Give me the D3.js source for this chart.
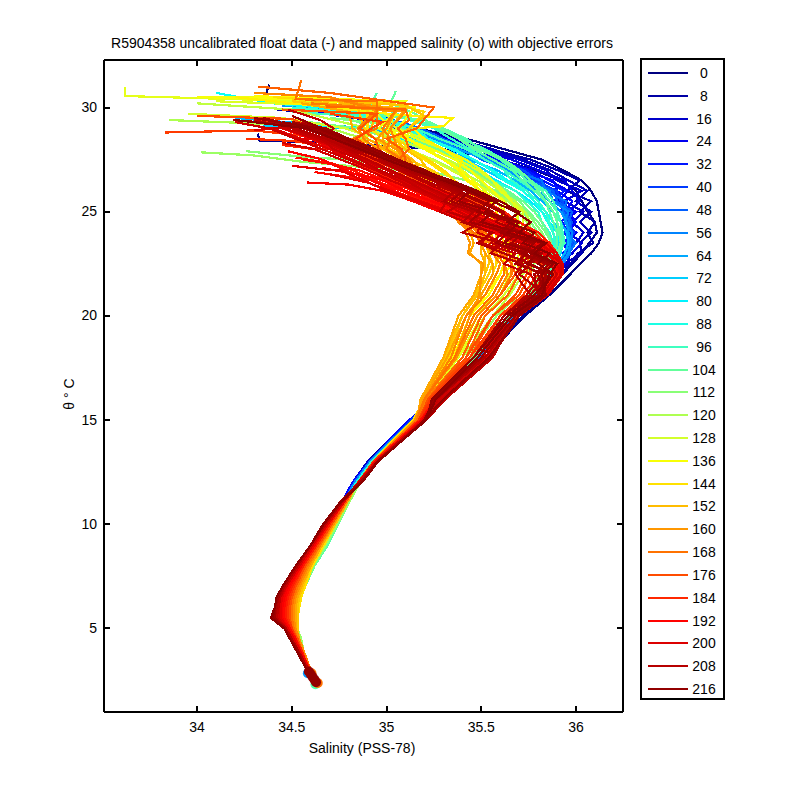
<!DOCTYPE html>
<html>
<head>
<meta charset="utf-8">
<script src="https://cdn.jsdelivr.net/npm/d3@7"></script>
<style>
body { margin: 0; background: #fff; }
text { font-family: "Liberation Sans", Arial, sans-serif; font-size: 14px; fill: #000; }
.axis path, .axis line { stroke: #000; shape-rendering: crispEdges; stroke-width: 2px; }
.profile { fill: none; stroke-width: 2.2px; shape-rendering: crispEdges; }
</style>
</head>
<body>
<svg id="chart" width="800" height="800"></svg>
<script>
var titleText = 'R5904358 uncalibrated float data (-) and mapped salinity (o) with objective errors';
var legendCycles = [0,8,16,24,32,40,48,56,64,72,80,88,96,104,112,120,128,136,144,152,160,168,176,184,192,200,208,216];
var xTicks = [34, 34.5, 35, 35.5, 36];
var yTicks = [5, 10, 15, 20, 25, 30];

// theta levels the upper salinity values were read at
var upperTheta = [29,28.5,28,27.5,27,26.5,26,25.5,25,24.5,24,23.5,23,22.5,22,21,20,18,16];
// theta levels of the deep limb
var deepTheta = [15,14,13,12,11,10,9,8,7,6.5,6,5.5,5,4.5,4,3.5,3,2.3];

// deep limbs, oldest to newest
var deepLimbs = [
  [35.12,35.01,34.90,34.82,34.76,34.69,34.62,34.55,34.50,34.49,34.49,34.49,34.50,34.52,34.54,34.56,34.59,34.64],
  [35.13,35.02,34.90,34.82,34.76,34.69,34.62,34.55,34.51,34.50,34.50,34.50,34.51,34.53,34.55,34.57,34.59,34.64],
  [35.12,35.01,34.91,34.82,34.76,34.70,34.63,34.56,34.52,34.51,34.51,34.50,34.51,34.53,34.55,34.57,34.59,34.64],
  [35.13,35.02,34.91,34.83,34.77,34.70,34.64,34.57,34.53,34.52,34.51,34.51,34.52,34.53,34.55,34.57,34.60,34.64],
  [35.14,35.02,34.91,34.83,34.77,34.71,34.65,34.58,34.54,34.52,34.52,34.51,34.52,34.54,34.56,34.58,34.60,34.65],
  [35.14,35.03,34.92,34.84,34.78,34.72,34.66,34.59,34.54,34.53,34.52,34.52,34.52,34.54,34.56,34.58,34.60,34.65],
  [35.15,35.03,34.92,34.84,34.78,34.73,34.67,34.60,34.55,34.53,34.53,34.52,34.53,34.54,34.56,34.58,34.60,34.65],
  [35.14,35.03,34.92,34.85,34.79,34.74,34.68,34.61,34.56,34.54,34.53,34.52,34.53,34.54,34.56,34.58,34.60,34.65],
  [35.15,35.03,34.93,34.86,34.80,34.745,34.69,34.62,34.57,34.54,34.53,34.53,34.53,34.54,34.56,34.58,34.60,34.65],
  [35.15,35.04,34.93,34.86,34.80,34.74,34.68,34.62,34.57,34.55,34.54,34.53,34.53,34.55,34.56,34.58,34.60,34.65],
  [35.14,35.03,34.93,34.86,34.80,34.74,34.68,34.61,34.57,34.55,34.54,34.53,34.53,34.55,34.56,34.58,34.60,34.65],
  [35.14,35.03,34.93,34.85,34.79,34.73,34.67,34.61,34.57,34.55,34.54,34.53,34.53,34.54,34.56,34.58,34.60,34.65],
  [35.15,35.03,34.93,34.85,34.79,34.73,34.67,34.60,34.56,34.54,34.53,34.52,34.53,34.54,34.56,34.58,34.60,34.65],
  [35.14,35.03,34.93,34.85,34.79,34.73,34.67,34.61,34.57,34.55,34.54,34.53,34.53,34.54,34.56,34.58,34.60,34.65],
  [35.15,35.04,34.93,34.85,34.79,34.73,34.66,34.60,34.56,34.54,34.53,34.53,34.53,34.54,34.56,34.58,34.60,34.65],
  [35.16,35.04,34.93,34.85,34.79,34.72,34.66,34.60,34.55,34.53,34.52,34.52,34.52,34.54,34.56,34.58,34.60,34.645],
  [35.15,35.04,34.93,34.85,34.78,34.72,34.65,34.59,34.54,34.52,34.51,34.51,34.52,34.54,34.56,34.58,34.60,34.645],
  [35.16,35.05,34.93,34.85,34.78,34.71,34.65,34.58,34.53,34.51,34.50,34.50,34.51,34.53,34.55,34.58,34.60,34.645],
  [35.17,35.05,34.93,34.85,34.78,34.71,34.64,34.57,34.52,34.50,34.49,34.49,34.50,34.53,34.55,34.57,34.60,34.64],
  [35.17,35.05,34.93,34.85,34.77,34.70,34.63,34.56,34.51,34.49,34.48,34.48,34.50,34.52,34.55,34.57,34.60,34.64],
  [35.18,35.06,34.94,34.85,34.77,34.70,34.63,34.56,34.50,34.48,34.47,34.47,34.49,34.52,34.55,34.57,34.60,34.64],
  [35.18,35.06,34.94,34.85,34.77,34.69,34.62,34.55,34.49,34.47,34.46,34.46,34.49,34.52,34.54,34.57,34.59,34.64],
  [35.19,35.06,34.94,34.85,34.77,34.69,34.62,34.55,34.48,34.46,34.45,34.45,34.48,34.51,34.54,34.57,34.59,34.635],
  [35.19,35.07,34.94,34.85,34.77,34.69,34.61,34.54,34.47,34.45,34.44,34.44,34.48,34.51,34.54,34.56,34.59,34.635],
  [35.20,35.07,34.95,34.85,34.76,34.68,34.61,34.54,34.47,34.44,34.43,34.43,34.47,34.50,34.53,34.56,34.59,34.63],
  [35.20,35.07,34.95,34.86,34.76,34.68,34.60,34.53,34.46,34.44,34.43,34.42,34.47,34.50,34.53,34.56,34.59,34.63],
  [35.21,35.08,34.95,34.86,34.76,34.67,34.60,34.53,34.46,34.43,34.42,34.41,34.47,34.50,34.53,34.56,34.58,34.63],
  [35.21,35.08,34.955,34.86,34.75,34.67,34.60,34.52,34.45,34.43,34.41,34.41,34.46,34.49,34.53,34.55,34.58,34.63],
  [35.20,35.08,34.95,34.87,34.75,34.67,34.60,34.52,34.45,34.42,34.41,34.40,34.46,34.49,34.52,34.55,34.58,34.63],
  [35.21,35.08,34.955,34.87,34.75,34.665,34.60,34.52,34.45,34.42,34.41,34.39,34.46,34.49,34.52,34.55,34.58,34.63]
];

// each row: cycle, surface points [salinity, theta], salinity at upperTheta
var blueRows = [
  [0,[[34.38,31.1],[34.36,30.5],[34.8,29.9]],[35.16,35.42,35.62,35.82,35.93,36.03,36.08,36.11,36.12,36.13,36.14,36.12,36.08,36.02,35.97,35.86,35.73,35.52,35.27]],
  [4,[[34.32,28.75],[34.33,28.4],[34.6,28.35]],[null,null,35.3,35.6,35.78,35.92,36.0,36.03,36.06,36.1,36.11,36.07,36.03,35.98,35.93,35.84,35.72,35.52,35.27]],
  [8,[[34.42,29.9],[34.8,29.6]],[35.1,35.34,35.55,35.76,35.9,36.02,35.95,36.08,36.02,36.1,36.06,36.09,36.01,35.97,35.92,35.82,35.7,35.5,35.26]],
  [12,[[34.72,30.0],[34.95,29.5]],[35.15,35.36,35.56,35.72,35.86,35.96,36.06,36.0,36.08,36.02,36.08,36.02,36.03,35.94,35.9,35.82,35.7,35.5,35.26]],
  [16,[[34.75,29.9],[35.0,29.5]],[35.18,35.3,35.52,35.7,35.84,35.9,36.03,35.94,36.04,35.98,36.04,36.0,35.96,35.96,35.88,35.81,35.69,35.5,35.26]],
  [20,[[34.85,29.6]],[35.12,35.32,35.48,35.66,35.8,35.94,35.98,36.02,35.96,36.0,35.96,36.03,35.98,35.92,35.9,35.8,35.69,35.5,35.26]],
  [24,[[34.6,29.8],[34.9,29.4]],[35.08,35.26,35.5,35.6,35.76,35.86,35.96,35.9,36.0,35.94,36.0,35.95,35.97,35.93,35.87,35.8,35.68,35.5,35.26]],
  [28,[[34.8,29.7]],[35.05,35.28,35.42,35.62,35.72,35.88,35.9,35.98,35.94,36.0,35.95,35.98,35.93,35.94,35.88,35.79,35.68,35.5,35.25]],
  [32,[[34.95,29.6]],[35.14,35.24,35.46,35.56,35.74,35.82,35.94,35.88,35.98,35.92,35.97,35.94,35.95,35.91,35.86,35.79,35.68,35.5,35.25]],
  [36,[[34.9,29.5]],[35.08,35.3,35.4,35.58,35.7,35.8,35.88,35.94,35.92,35.96,35.94,35.97,35.94,35.9,35.87,35.79,35.67,35.5,35.25]],
  [40,[[34.85,29.7]],[35.12,35.22,35.44,35.54,35.68,35.78,35.9,35.92,35.96,35.95,35.99,35.95,35.96,35.92,35.87,35.79,35.67,35.49,35.25]],
  [44,[[34.98,29.4]],[35.1,35.26,35.38,35.52,35.72,35.8,35.86,35.93,35.94,35.98,35.96,35.99,35.95,35.92,35.88,35.78,35.67,35.49,35.25]],
  [48,[[35.0,29.5]],[35.18,35.3,35.42,35.5,35.66,35.76,35.88,35.9,35.98,35.96,35.98,35.98,35.94,35.93,35.87,35.78,35.67,35.49,35.24]],
  [52,[[34.9,29.6]],[35.06,35.24,35.36,35.56,35.64,35.82,35.84,35.95,35.93,35.97,35.95,36.0,35.96,35.92,35.89,35.79,35.67,35.49,35.24]],
  [56,[[35.02,29.4]],[35.16,35.28,35.44,35.54,35.7,35.74,35.86,35.88,35.96,35.94,35.98,35.97,35.97,35.93,35.89,35.78,35.66,35.49,35.24]]
];
var greenRows = [
  [60,[[34.45,30.1],[34.9,29.7]],[35.12,35.26,35.38,35.52,35.64,35.72,35.8,35.86,35.92,35.95,35.96,35.97,35.96,35.92,35.88,35.79,35.67,35.5,35.25]],
  [66,[[34.2,29.5],[34.6,29.2]],[34.92,35.12,35.3,35.44,35.58,35.68,35.76,35.82,35.88,35.92,35.95,35.96,35.94,35.9,35.87,35.78,35.66,35.48,35.25]],
  [72,[[34.35,29.1],[34.7,29.0]],[34.95,35.15,35.28,35.42,35.52,35.62,35.72,35.78,35.84,35.88,35.92,35.93,35.92,35.88,35.86,35.78,35.66,35.48,35.24]],
  [78,[[34.3,29.3],[34.7,29.1]],[34.98,35.08,35.24,35.38,35.48,35.58,35.68,35.76,35.82,35.86,35.9,35.91,35.9,35.88,35.85,35.77,35.65,35.47,35.24]],
  [84,[[34.1,30.7],[34.4,30.2],[34.9,29.8]],[35.1,35.22,35.34,35.46,35.56,35.64,35.72,35.78,35.84,35.88,35.9,35.92,35.91,35.88,35.85,35.78,35.66,35.48,35.24]],
  [88,[[34.6,29.9],[34.95,29.6]],[35.15,35.22,35.36,35.46,35.55,35.62,35.72,35.78,35.82,35.85,35.88,35.9,35.88,35.87,35.84,35.77,35.65,35.47,35.24]],
  [92,[[34.7,29.8],[35.0,29.4]],[35.1,35.2,35.3,35.4,35.5,35.56,35.68,35.74,35.8,35.82,35.86,35.88,35.87,35.86,35.83,35.76,35.64,35.47,35.24]],
  [94,[[34.5,30.0],[35.05,29.6]],[35.25,35.34,35.44,35.52,35.62,35.66,35.74,35.8,35.84,35.86,35.88,35.89,35.88,35.86,35.84,35.77,35.65,35.47,35.24]],
  [96,[[34.5,29.8],[34.95,29.5]],[35.15,35.28,35.42,35.52,35.62,35.7,35.78,35.84,35.88,35.92,35.93,35.94,35.91,35.89,35.85,35.78,35.66,35.47,35.24]],
  [98,[[34.8,29.9],[35.1,29.5]],[35.26,35.4,35.52,35.62,35.7,35.76,35.84,35.88,35.9,35.92,35.92,35.92,35.9,35.88,35.85,35.77,35.65,35.47,35.24]],
  [100,[[34.95,30.7],[34.92,30.2],[35.08,29.6]],[35.3,35.42,35.5,35.6,35.68,35.74,35.82,35.86,35.9,35.9,35.92,35.93,35.9,35.89,35.85,35.77,35.65,35.47,35.24]],
  [102,[[34.9,29.7],[35.2,29.4]],[35.3,35.38,35.46,35.56,35.66,35.72,35.78,35.84,35.86,35.88,35.9,35.9,35.89,35.87,35.84,35.76,35.64,35.46,35.24]],
  [104,[[35.05,30.8],[35.02,30.2],[35.15,29.7]],[35.28,35.38,35.48,35.62,35.7,35.76,35.8,35.84,35.88,35.9,35.91,35.92,35.9,35.87,35.85,35.77,35.65,35.47,35.24]],
  [106,[[34.75,29.6]],[34.95,35.12,35.28,35.36,35.46,35.55,35.64,35.72,35.78,35.82,35.85,35.87,35.87,35.85,35.83,35.76,35.64,35.46,35.24]],
  [108,[[34.5,29.4]],[34.85,35.02,35.2,35.32,35.42,35.52,35.62,35.7,35.75,35.8,35.84,35.87,35.86,35.85,35.82,35.75,35.62,35.45,35.24]],
  [110,[[34.7,29.5],[35.0,29.2]],[35.08,35.18,35.26,35.36,35.44,35.54,35.6,35.66,35.72,35.76,35.8,35.82,35.82,35.82,35.8,35.74,35.62,35.45,35.23]],
  [112,[[34.26,27.9],[34.6,27.6]],[null,null,null,34.8,35.2,35.42,35.58,35.66,35.74,35.78,35.82,35.85,35.84,35.83,35.8,35.74,35.6,35.44,35.23]],
  [116,[[34.02,27.85],[34.3,27.7],[34.55,27.4]],[null,null,null,null,35.05,35.3,35.5,35.6,35.7,35.74,35.78,35.82,35.8,35.78,35.76,35.7,35.58,35.42,35.22]]
];
var orangeRows = [
  [120,[[33.85,29.4],[34.4,29.2]],[34.7,34.88,35.08,35.25,35.36,35.48,35.56,35.64,35.7,35.74,35.76,35.78,35.78,35.76,35.74,35.68,35.56,35.42,35.22]],
  [124,[[34.0,30.2],[34.5,29.9]],[34.9,35.05,35.2,35.32,35.44,35.52,35.6,35.68,35.73,35.76,35.74,35.75,35.77,35.75,35.72,35.65,35.56,35.4,35.22]],
  [128,[[33.95,29.7],[34.45,29.5]],[34.78,34.95,35.12,35.24,35.34,35.44,35.54,35.62,35.68,35.7,35.7,35.72,35.74,35.72,35.7,35.62,35.52,35.38,35.21]],
  [130,[[34.1,30.3],[34.7,30.1],[35.0,29.7]],[35.05,35.2,35.3,35.38,35.48,35.56,35.62,35.66,35.72,35.72,35.7,35.74,35.72,35.7,35.68,35.6,35.5,35.4,35.21]],
  [132,[[33.62,31.0],[33.62,30.55],[34.2,30.4],[34.9,30.2]],[35.02,35.16,35.3,35.42,35.5,35.56,35.6,35.66,35.7,35.68,35.72,35.7,35.7,35.68,35.65,35.6,35.5,35.38,35.21]],
  [134,[[34.05,30.5],[34.6,30.45],[35.1,30.3]],[34.96,35.1,35.22,35.3,35.4,35.46,35.52,35.58,35.62,35.66,35.66,35.68,35.66,35.66,35.62,35.56,35.48,35.36,35.2]],
  [136,[[34.0,30.5],[34.6,30.4],[35.06,29.9]],[35.0,35.1,35.24,35.36,35.44,35.5,35.56,35.62,35.62,35.66,35.68,35.66,35.68,35.66,35.62,35.56,35.46,35.36,35.2]],
  [138,[[34.3,30.55],[34.9,30.35],[35.15,30.0]],[35.06,35.12,35.2,35.3,35.38,35.44,35.5,35.56,35.58,35.6,35.62,35.64,35.62,35.62,35.6,35.54,35.44,35.35,35.2]],
  [140,[[34.2,30.5],[35.06,29.65],[35.35,29.5],[35.3,29.1]],[35.14,35.2,35.3,35.4,35.38,35.42,35.5,35.54,35.6,35.64,35.62,35.66,35.64,35.62,35.6,35.52,35.44,35.35,35.2]],
  [144,[[34.4,30.5],[34.9,30.2]],[34.9,35.0,35.1,35.2,35.28,35.36,35.42,35.5,35.52,35.58,35.6,35.62,35.6,35.58,35.56,35.5,35.42,35.34,35.2]],
  [146,[[34.5,30.4],[35.0,30.25],[35.2,29.8]],[35.12,35.06,35.12,35.22,35.3,35.36,35.42,35.46,35.5,35.54,35.58,35.58,35.58,35.58,35.56,35.5,35.42,35.33,35.19]],
  [148,[[34.5,30.3],[34.85,30.0]],[34.88,34.94,35.02,35.12,35.24,35.32,35.38,35.44,35.5,35.52,35.56,35.54,35.54,35.56,35.54,35.48,35.4,35.32,35.19]],
  [150,[[34.65,30.35],[35.1,30.1],[35.2,29.6]],[35.12,35.04,35.1,35.18,35.22,35.3,35.36,35.42,35.46,35.5,35.52,35.52,35.54,35.54,35.52,35.47,35.4,35.31,35.19]],
  [152,[[34.6,30.3],[34.95,29.9]],[34.92,34.85,34.98,35.08,35.2,35.28,35.35,35.4,35.46,35.5,35.5,35.5,35.52,35.52,35.52,35.48,35.4,35.3,35.19]],
  [154,[[34.75,30.2],[35.1,29.95]],[35.02,35.0,35.06,35.14,35.18,35.26,35.32,35.38,35.44,35.46,35.48,35.5,35.5,35.52,35.5,35.46,35.38,35.3,35.18]],
  [156,[[34.55,30.2],[34.8,29.8]],[34.82,34.9,35.0,35.06,35.15,35.22,35.3,35.36,35.4,35.46,35.44,35.46,35.44,35.5,35.5,35.46,35.38,35.3,35.18]],
  [158,[[34.7,30.1],[35.05,29.8]],[34.98,34.98,35.0,35.1,35.16,35.2,35.26,35.34,35.38,35.44,35.5,35.5,35.52,35.56,35.56,35.5,35.42,35.32,35.19]],
  [160,[[34.7,30.4],[35.05,29.9]],[35.0,34.95,35.05,35.1,35.18,35.2,35.28,35.32,35.36,35.42,35.42,35.44,35.43,35.51,35.5,35.49,35.44,35.36,35.2]],
  [162,[[34.8,30.0],[35.1,29.8]],[35.02,35.04,35.06,35.12,35.16,35.18,35.26,35.3,35.36,35.4,35.46,35.54,35.58,35.62,35.64,35.58,35.48,35.37,35.2]],
  [164,[[34.3,30.7],[34.7,30.5],[34.95,29.9]],[34.85,34.88,34.95,35.02,35.08,35.14,35.22,35.28,35.34,35.38,35.44,35.52,35.56,35.6,35.58,35.52,35.42,35.34,35.2]],
  [166,[[34.6,30.2],[35.05,29.9]],[34.98,35.02,35.0,35.08,35.06,35.12,35.18,35.26,35.32,35.42,35.48,35.56,35.62,35.66,35.66,35.6,35.5,35.4,35.21]],
  [168,[[34.55,31.3],[34.52,30.4],[34.95,30.3]],[34.95,34.82,34.9,35.0,35.06,35.1,35.18,35.24,35.3,35.4,35.46,35.5,35.58,35.62,35.62,35.56,35.46,35.36,35.2]],
  [170,[[34.68,30.05],[35.1,29.9],[35.12,29.4]],[35.06,35.1,35.12,35.06,35.1,35.16,35.22,35.28,35.36,35.44,35.52,35.6,35.64,35.7,35.7,35.64,35.52,35.42,35.22]],
  [172,[[34.32,31.0],[34.7,30.7],[35.25,30.0]],[35.16,35.0,35.08,35.1,35.08,35.14,35.2,35.3,35.34,35.44,35.5,35.56,35.6,35.66,35.68,35.6,35.5,35.4,35.22]],
  [174,[[34.45,29.9],[34.95,29.7]],[34.86,34.94,34.96,35.02,35.1,35.18,35.28,35.36,35.44,35.52,35.6,35.68,35.72,35.76,35.76,35.7,35.56,35.44,35.22]],
  [176,[[34.0,29.6],[34.5,29.45]],[34.62,34.74,34.88,34.98,35.06,35.16,35.26,35.36,35.46,35.54,35.6,35.66,35.7,35.74,35.74,35.68,35.56,35.42,35.22]],
  [178,[[34.7,29.7],[34.98,29.3]],[34.92,34.84,34.92,35.04,35.14,35.24,35.36,35.46,35.56,35.62,35.7,35.76,35.8,35.82,35.82,35.74,35.6,35.46,35.23]]
];
var redRows = [
  [180,[[33.83,28.8],[34.3,28.9]],[null,34.7,34.84,34.96,35.1,35.2,35.32,35.42,35.52,35.6,35.68,35.72,35.78,35.82,35.8,35.72,35.6,35.44,35.23]],
  [182,[[34.26,28.5],[34.5,28.4]],[null,null,34.78,34.92,35.06,35.2,35.34,35.44,35.56,35.64,35.72,35.78,35.84,35.86,35.84,35.76,35.64,35.46,35.24]],
  [184,[[34.3,29.4],[34.55,29.1]],[34.65,34.8,34.92,35.04,35.18,35.3,35.42,35.52,35.62,35.7,35.78,35.84,35.88,35.9,35.88,35.8,35.66,35.48,35.25]],
  [186,[[34.45,28.2],[34.62,28.0]],[null,null,34.7,34.8,34.92,35.04,35.16,35.3,35.44,35.56,35.68,35.78,35.86,35.9,35.9,35.82,35.68,35.5,35.26]],
  [187,[[34.4,29.2]],[34.6,34.72,34.86,34.98,35.12,35.24,35.38,35.48,35.6,35.7,35.8,35.86,35.9,35.91,35.89,35.82,35.68,35.5,35.26]],
  [188,[[34.52,27.6],[34.72,27.3]],[null,null,null,null,34.82,34.94,35.08,35.2,35.36,35.5,35.64,35.76,35.84,35.9,35.91,35.83,35.69,35.5,35.26]],
  [190,[[34.56,27.5],[34.7,27.3]],[null,null,null,null,34.85,35.0,35.14,35.26,35.42,35.55,35.68,35.78,35.86,35.9,35.9,35.83,35.69,35.5,35.26]],
  [191,[[34.62,26.9],[34.85,26.6]],[null,null,null,null,null,34.92,35.08,35.22,35.38,35.52,35.66,35.78,35.86,35.92,35.92,35.84,35.7,35.52,35.27]],
  [192,[[34.48,27.9],[34.62,27.6]],[null,null,null,34.66,34.78,34.92,35.04,35.18,35.3,35.44,35.58,35.72,35.82,35.88,35.9,35.84,35.69,35.5,35.26]],
  [193,[[34.66,27.1],[34.9,26.7]],[null,null,null,null,null,34.98,35.1,35.24,35.4,35.56,35.7,35.82,35.88,35.92,35.92,35.85,35.7,35.52,35.27]],
  [194,[[34.58,26.4],[34.8,26.3]],[null,null,null,null,null,null,34.98,35.14,35.28,35.42,35.56,35.7,35.82,35.88,35.92,35.84,35.7,35.5,35.26]],
  [196,[[34.35,29.0]],[34.45,34.6,34.72,34.88,35.02,35.14,35.28,35.4,35.52,35.62,35.72,35.82,35.88,35.92,35.9,35.84,35.7,35.52,35.27]],
  [197,[[34.7,26.8],[34.9,26.4]],[null,null,null,null,null,null,35.02,35.18,35.34,35.48,35.62,35.74,35.86,35.92,35.93,35.85,35.7,35.53,35.28]],
  [198,[[34.5,27.2],[34.7,27.0]],[null,null,null,null,34.75,34.88,35.0,35.16,35.32,35.46,35.6,35.72,35.84,35.9,35.92,35.85,35.7,35.52,35.27]],
  [199,[[34.55,28.5]],[null,34.6,34.75,34.86,35.0,35.12,35.24,35.38,35.5,35.62,35.74,35.84,35.9,35.93,35.93,35.85,35.7,35.53,35.28]],
  [200,[[34.3,28.9]],[34.4,34.55,34.7,34.82,34.95,35.08,35.22,35.34,35.46,35.58,35.7,35.8,35.88,35.93,35.93,35.85,35.7,35.52,35.27]],
  [202,[[34.45,28.3]],[null,null,34.62,34.76,34.9,35.02,35.16,35.28,35.42,35.54,35.66,35.76,35.86,35.92,35.92,35.84,35.7,35.54,35.28]],
  [203,[[34.2,29.3]],[34.38,34.52,34.66,34.8,34.94,35.06,35.18,35.3,35.38,35.5,35.48,35.62,35.72,35.8,35.88,35.8,35.66,35.5,35.25]],
  [204,[[34.4,29.0]],[34.46,34.62,34.76,34.88,35.0,35.12,35.24,35.34,35.44,35.52,35.6,35.7,35.8,35.86,35.9,35.82,35.68,35.54,35.29]],
  [205,[[34.48,29.9],[34.65,29.4]],[34.72,34.66,34.72,34.86,34.96,35.1,35.2,35.32,35.28,35.42,35.55,35.5,35.68,35.62,35.76,35.82,35.68,35.5,35.27]],
  [206,[[34.3,29.4]],[34.5,34.65,34.78,34.9,35.02,35.14,35.26,35.38,35.5,35.46,35.62,35.55,35.72,35.7,35.82,35.8,35.64,35.48,35.25]],
  [207,[[34.55,29.3]],[34.62,34.7,34.82,34.94,35.06,35.18,35.3,35.42,35.32,35.5,35.4,35.6,35.55,35.72,35.68,35.76,35.68,35.56,35.31]],
  [208,[[34.42,29.2]],[34.52,34.68,34.8,34.95,35.08,35.2,35.34,35.44,35.56,35.5,35.66,35.62,35.78,35.7,35.82,35.74,35.62,35.46,35.24]],
  [209,[[34.6,29.1]],[34.64,34.76,34.9,35.0,35.12,35.24,35.36,35.3,35.46,35.4,35.56,35.48,35.62,35.76,35.7,35.84,35.68,35.52,35.26]],
  [210,[[34.19,29.4],[34.45,29.2]],[34.58,34.72,34.86,34.98,35.1,35.24,35.36,35.48,35.6,35.68,35.62,35.76,35.7,35.84,35.78,35.8,35.66,35.48,35.25]],
  [211,[[34.35,29.5]],[34.56,34.72,34.84,35.0,35.12,35.26,35.38,35.5,35.62,35.58,35.72,35.66,35.82,35.76,35.86,35.76,35.62,35.46,35.24]],
  [212,[[34.5,29.3]],[34.68,34.8,34.92,35.02,35.16,35.28,35.4,35.34,35.5,35.44,35.64,35.58,35.74,35.68,35.84,35.82,35.7,35.55,35.3]],
  [213,[[34.45,29.2]],[34.6,34.74,34.88,35.0,35.14,35.28,35.42,35.54,35.48,35.66,35.6,35.78,35.72,35.86,35.8,35.84,35.68,35.5,35.26]],
  [214,[[34.3,29.5]],[34.62,34.76,34.88,35.04,35.16,35.3,35.44,35.38,35.56,35.5,35.7,35.62,35.8,35.74,35.88,35.8,35.66,35.48,35.25]],
  [215,[[34.5,29.6]],[34.66,34.8,34.94,35.06,35.2,35.32,35.46,35.58,35.52,35.7,35.64,35.82,35.76,35.88,35.82,35.84,35.7,35.54,35.3]],
  [216,[[34.45,29.3]],[34.64,34.78,34.9,35.04,35.18,35.34,35.48,35.6,35.7,35.64,35.78,35.72,35.86,35.8,35.88,35.78,35.64,35.46,35.24]],
  [217,[[34.2,29.4]],[34.58,34.72,34.86,35.0,35.14,35.3,35.44,35.56,35.68,35.76,35.7,35.84,35.78,35.9,35.86,35.82,35.66,35.48,35.26]]
];

// mapped salinity markers at the cold end of the profiles
var mappedCycle = [60,100,168,168,216,216,216,216,216];
var mappedSal = [34.585,34.625,34.604,34.637,34.59,34.60,34.61,34.62,34.628];
var mappedTheta = [2.85,2.32,2.85,2.38,2.93,2.80,2.67,2.54,2.42];

var svg = d3.select('#chart');
var plot = { left: 104, right: 623, top: 60, bottom: 712 };

var x = d3.scaleLinear().domain([33.509, 36.248]).range([plot.left, plot.right]);
var y = d3.scaleLinear().domain([0.99, 32.28]).range([plot.bottom, plot.top]);

function jet(c) {
    var t = c / 220;
    function ch(k) { return Math.round(255 * Math.max(0, Math.min(1, 1.5 - Math.abs(4 * t - k)))); }
    return 'rgb(' + ch(3) + ',' + ch(2) + ',' + ch(1) + ')';
}

var line = d3.line()
    .x(function (d) { return x(d[0]); })
    .y(function (d) { return y(d[1]); });

var rows = blueRows.concat(greenRows, orangeRows, redRows);
var plotArea = svg.append('g');

rows.forEach(function (row, n) {
    var pts = row[1].slice();
    row[2].forEach(function (s, i) {
        if (s !== null) pts.push([s, upperTheta[i]]);
    });
    var limb = deepLimbs[Math.round(n / (rows.length - 1) * (deepLimbs.length - 1))];
    limb.forEach(function (s, i) { pts.push([s, deepTheta[i]]); });
    plotArea.append('path')
        .attr('class', 'profile')
        .attr('d', line(pts))
        .attr('stroke', jet(row[0]));
});

plotArea.selectAll('circle').data(mappedSal).enter().append('circle')
    .attr('cx', function (d) { return x(d); })
    .attr('cy', function (d, i) { return y(mappedTheta[i]); })
    .attr('r', 5)
    .attr('fill', function (d, i) { return jet(mappedCycle[i]); });

// axes, ticks point inward on all four sides
function addAxis(axis, tx, ty, noLabels) {
    var g = svg.append('g').attr('class', 'axis').attr('transform', 'translate(' + tx + ',' + ty + ')').call(axis);
    if (noLabels) g.selectAll('text').remove();
    return g;
}
addAxis(d3.axisBottom(x).offset(0).tickValues(xTicks).tickFormat(d3.format('')).tickSize(-6).tickSizeOuter(0).tickPadding(10), 0, plot.bottom);
addAxis(d3.axisTop(x).offset(0).tickValues(xTicks).tickSize(-6).tickSizeOuter(0), 0, plot.top, true);
addAxis(d3.axisLeft(y).offset(0).tickValues(yTicks).tickSize(-6).tickSizeOuter(0).tickPadding(7), plot.left, 0);
addAxis(d3.axisRight(y).offset(0).tickValues(yTicks).tickSize(-6).tickSizeOuter(0), plot.right, 0, true);
svg.selectAll('.axis text').style('font-size', '14px').style('font-family', '"Liberation Sans", Arial, sans-serif');

svg.append('text').attr('x', 362).attr('y', 48).attr('text-anchor', 'middle').text(titleText);
svg.append('text').attr('x', 362).attr('y', 753).attr('text-anchor', 'middle').text('Salinity (PSS-78)');
svg.append('text').attr('transform', 'translate(74,394) rotate(-90)').attr('text-anchor', 'middle').text('θ ° C');

// legend
var legend = svg.append('g');
legend.append('rect')
    .attr('x', 641).attr('y', 59).attr('width', 83).attr('height', 640)
    .attr('fill', '#fff').attr('stroke', '#000').attr('stroke-width', 2)
    .style('shape-rendering', 'crispEdges');

var legendY = d3.scaleLinear().domain([0, legendCycles.length - 1]).range([73, 689]);

legendCycles.forEach(function (c, i) {
    var ly = Math.round(legendY(i));
    legend.append('line')
        .attr('x1', 648).attr('x2', 688).attr('y1', ly).attr('y2', ly)
        .attr('stroke', jet(c)).attr('stroke-width', 2)
        .style('shape-rendering', 'crispEdges');
    legend.append('text')
        .attr('x', 704).attr('y', ly + 5)
        .attr('text-anchor', 'middle')
        .text(c);
});
</script>
</body>
</html>
